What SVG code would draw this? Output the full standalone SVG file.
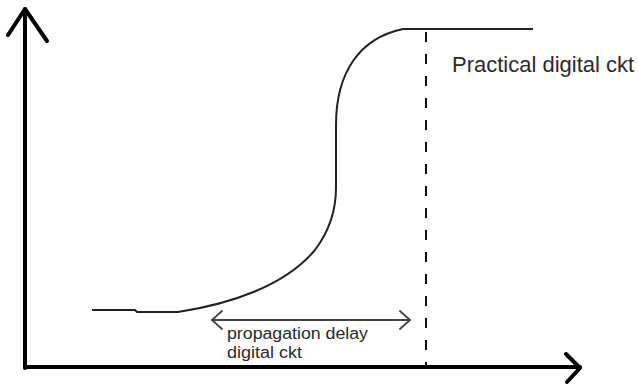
<svg xmlns="http://www.w3.org/2000/svg" width="638" height="387" viewBox="0 0 638 387">
<style>
.axis{stroke:#000;stroke-width:4;fill:none;stroke-linecap:round;stroke-linejoin:round}
.curve{stroke:#222;stroke-width:2;fill:none}
.dash{stroke:#111;stroke-width:2;stroke-dasharray:10 12;fill:none}
.dim{stroke:#444;stroke-width:1.8;fill:none;stroke-linecap:round;stroke-linejoin:round}
.lbl{font-family:"Liberation Sans",Arial,sans-serif;fill:#2a2a2a}
</style>
<rect width="638" height="387" fill="#fff"/>
<g id="connectors">
<g id="y-axis">
<path class="axis" d="M25,368 L25,9"/>
<path class="axis" d="M8,35 L25,9 L47,41"/>
</g>
<g id="x-axis">
<path class="axis" d="M25,367 L580,367"/>
<path class="axis" d="M566,354 L580,368 L567,382"/>
</g>
<g id="delay-arrow">
<path class="dim" d="M212,320 L410,320"/>
<path class="dim" d="M222,311 L212,320 L222,329"/>
<path class="dim" d="M400,311 L410,320 L400,329"/>
</g>
<path id="dashed-marker" class="dash" d="M426,32 L426,367"/>
</g>
<g id="response-curve">
<path class="curve" d="M92,310 L135,310 L137,312 L178,312 C230,304 285,286 315,250 C330,230 336,210 336,188 L336,125 C336,72 360,38 403,29 L533,29"/>
</g>
<g id="label-practical">
<text class="lbl" x="452" y="72" font-size="22">Practical digital ckt</text>
</g>
<g id="label-delay">
<text class="lbl" x="227" y="339" font-size="16" textLength="141" lengthAdjust="spacingAndGlyphs">propagation delay</text>
<text class="lbl" x="227" y="358" font-size="16" textLength="75" lengthAdjust="spacingAndGlyphs">digital ckt</text>
</g>
</svg>
